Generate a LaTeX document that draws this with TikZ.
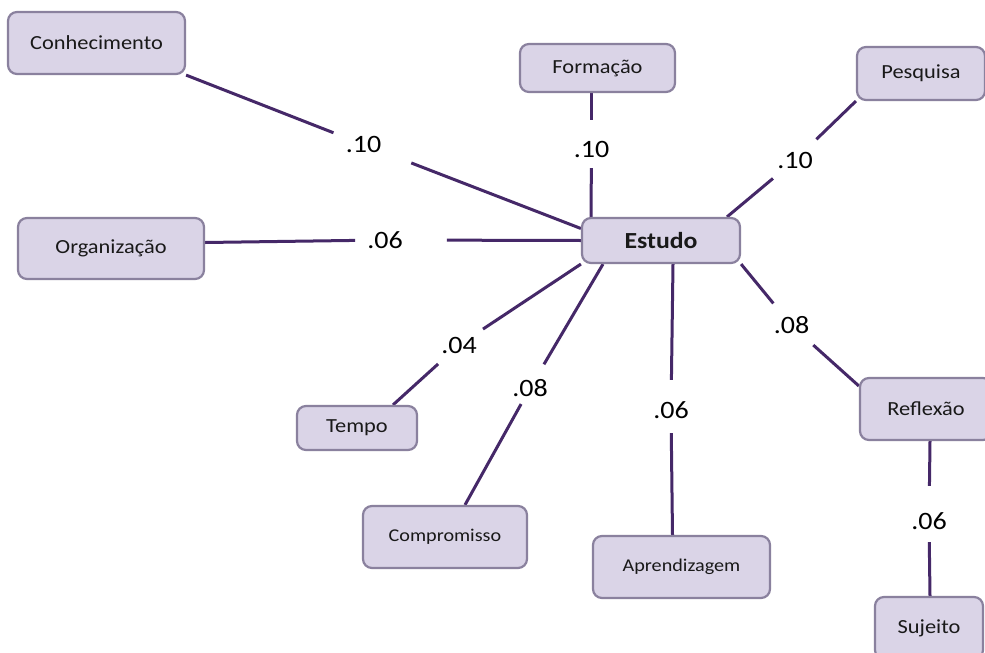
\documentclass[tikz,border=0pt]{standalone}
\usepackage{fontspec}
\setmainfont{Carlito}[FakeStretch=1.12]
\definecolor{boxfill}{HTML}{DAD4E7}
\definecolor{boxdraw}{HTML}{8A819E}
\definecolor{linecol}{HTML}{452868}
\pgfdeclarelayer{bg}
\pgfsetlayers{bg,main}
\begin{document}
\begin{tikzpicture}[x=1pt,y=-1pt,
  box/.style={draw=boxdraw, line width=2.2pt, fill=boxfill, rounded corners=9pt,
    inner sep=0pt, font=\fontsize{20}{24}\selectfont, text=black!90},
  lab/.style={inner sep=0pt, text height=16pt, text depth=0pt,
    font=\fontsize{25}{30}\selectfont},
  conn/.style={draw=linecol, line width=3pt}]
\useasboundingbox (0,0) rectangle (985,653);
\clip (0,0) rectangle (985,653);
% boxes
\node[box, minimum width=177pt, minimum height=62pt] (conh) at (96.5,43) {Conhecimento};
\node[box, minimum width=155pt, minimum height=48pt] (form) at (597.5,68) {Formação};
\node[box, minimum width=128pt, minimum height=53pt] (pesq) at (921,73.5) {Pesquisa};
\node[box, minimum width=186pt, minimum height=61pt] (org) at (111,248.5) {Organização};
\node[box, minimum width=158pt, minimum height=45pt, font=\fontsize{23}{27}\selectfont\bfseries] (estudo) at (661,240.5) {Estudo};
\node[box, minimum width=120pt, minimum height=44pt] (tempo) at (357,428) {Tempo};
\node[box, minimum width=164pt, minimum height=62pt, font=\fontsize{18}{22}\selectfont] (comp) at (445,537) {Compromisso};
\node[box, minimum width=177pt, minimum height=62pt, font=\fontsize{18}{22}\selectfont] (aprend) at (681.5,567) {Aprendizagem};
\node[box, minimum width=132pt, minimum height=62pt] (refl) at (926,409) {Reflexão};
\node[box, minimum width=108pt, minimum height=62pt] (suj) at (929,628) {Sujeito};
% labels
\node[lab] (l1) at (363.5,144.5) {.10};
\node[lab] (l2) at (591.5,149) {.10};
\node[lab] (l3) at (795,160) {.10};
\node[lab] (l4) at (385,240) {.06};
\node[lab] (l5) at (459,345) {.04};
\node[lab] (l6) at (530,388) {.08};
\node[lab] (l7) at (671,410) {.06};
\node[lab] (l8) at (791.5,325.5) {.08};
\node[lab] (l9) at (929,521) {.06};
\begin{pgfonlayer}{bg}
\fill[white] (0,0) rectangle (985,653);
\draw[conn, shorten >=13pt] (conh.south east) -- (l1);
\draw[conn, shorten <=32pt] (l1) -- ([yshift=12pt]estudo.west);
\draw[conn, shorten >=21pt] ([xshift=-6pt]form.south) -- (l2);
\draw[conn, shorten <=11pt] (l2) -- ([xshift=-70pt]estudo.north);
\draw[conn, shorten >=18pt] (pesq.south west) -- (l3);
\draw[conn, shorten <=16pt] (l3) -- ([xshift=66pt]estudo.north);
\draw[conn, shorten >=12pt] ([yshift=6pt]org.east) -- (l4);
\draw[conn, shorten <=44pt] (l4) -- (estudo.west);
\draw[conn, shorten >=16pt] ([xshift=36pt]tempo.north) -- (l5);
\draw[conn, shorten <=14pt] (l5) -- (estudo.south west);
\draw[conn, shorten >=9pt] ([xshift=20pt]comp.north) -- (l6);
\draw[conn, shorten <=18pt] (l6) -- ([xshift=-58pt]estudo.south);
\draw[conn, shorten >=22pt] ([xshift=12pt]estudo.south) -- (l7);
\draw[conn, shorten <=15pt] (l7) -- ([xshift=-9pt]aprend.north);
\draw[conn, shorten >=18pt] (estudo.south east) -- (l8);
\draw[conn, shorten <=17pt] (l8) -- ([yshift=23pt]refl.west);
\draw[conn, shorten >=27pt] ([xshift=4pt]refl.south) -- (l9);
\draw[conn, shorten <=13pt] (l9) -- ([xshift=1pt]suj.north);
\end{pgfonlayer}
\end{tikzpicture}
\end{document}
